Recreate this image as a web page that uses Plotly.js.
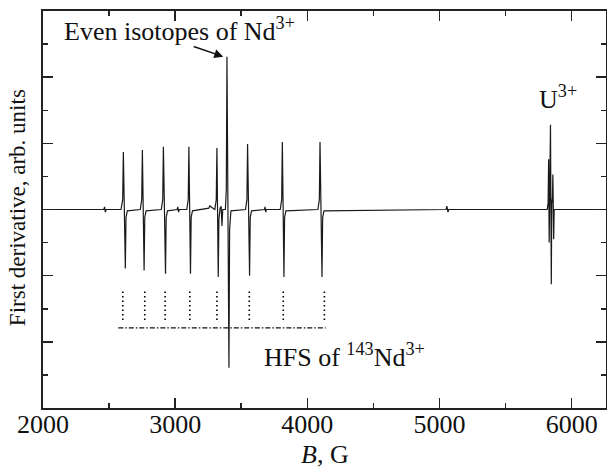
<!DOCTYPE html>
<html>
<head>
<meta charset="utf-8">
<script src="https://cdn.plot.ly/plotly-3.0.1.min.js"></script>
<style>html,body{margin:0;padding:0;background:#fff;}#chart{width:607px;height:468px;}</style>
</head>
<body>
<div id="chart"></div>
<script>
// Magnetic field B (G) and first-derivative EPR signal (arb. units)
const fieldG = [
  2000, 2460, 2466, 2472, 2478,
  2590, 2603, 2608, 2623, 2628, 2638,
  2736, 2747, 2752, 2765, 2770, 2780,
  2895, 2906, 2911, 2927, 2932, 2942,
  3015, 3020, 3026, 3031,
  3088, 3099, 3104, 3116, 3121, 3131,
  3255, 3262, 3270,
  3300, 3311, 3316, 3326, 3331, 3340, 3348, 3354, 3360,
  3380, 3387, 3392, 3407, 3412, 3422,
  3532, 3543, 3548, 3563, 3568, 3578,
  3676, 3680, 3686, 3690,
  3795, 3806, 3811, 3823, 3828, 3838,
  4080, 4091, 4096, 4111, 4116, 4126,
  5050, 5056, 5064, 5070,
  5815, 5822, 5826, 5830, 5834, 5840, 5846, 5850, 5854, 5858, 5864, 5868,
  6260
];
const signal = [
  0, 0, 0.04, -0.04, 0,
  0, 0.15, 0.87, -0.89, -0.12, -0.02,
  0, 0.15, 0.90, -0.92, -0.12, -0.02,
  0, 0.15, 0.95, -0.97, -0.12, -0.02,
  0, 0.04, -0.04, 0,
  0, 0.15, 0.95, -0.97, -0.12, -0.02,
  0.02, 0.06, 0.04,
  0, 0.15, 0.93, -1.02, -0.15, 0.02, 0.05, -0.25, 0,
  0, 0.30, 2.31, -2.39, -0.30, -0.02,
  0, 0.15, 0.99, -1.00, -0.12, -0.02,
  0, 0.04, -0.04, 0,
  0, 0.15, 1.02, -1.02, -0.12, -0.02,
  0, 0.15, 1.02, -1.02, -0.12, -0.02,
  0, 0.05, -0.04, 0,
  0, 0.10, 0.76, -0.50, 0.20, 1.28, -1.13, 0.15, 0.10, 0.53, -0.45, 0,
  0
];
// Positions of the 143Nd hyperfine components (dotted markers)
const hfsPositions = [2604, 2770, 2924, 3111, 3316, 3561, 3818, 4129];
const hfsMarkTop = -1.24;
const hfsMarkBottom = -1.68;
const hfsBracketX = [2570, 4139];
const hfsBracketY = -1.79;
const xTickVals = [2000, 3000, 4000, 5000, 6000];

const dotX = [], dotY = [];
hfsPositions.forEach(p => { dotX.push(p, p, null); dotY.push(hfsMarkTop, hfsMarkBottom, null); });

const font = {family: 'Liberation Serif', size: 26, color: '#111'};
const yTitleFont = {family: 'Liberation Serif', size: 23, color: '#111'};

const traces = [
  {x: fieldG, y: signal, type: 'scatter', mode: 'lines', line: {color: '#1a1a1a', width: 1.2}, hoverinfo: 'skip'},
  {x: dotX, y: dotY, type: 'scatter', mode: 'lines', line: {color: '#000', width: 1.6, dash: '1.5px,3px'}, hoverinfo: 'skip'},
  {x: hfsBracketX, y: [hfsBracketY, hfsBracketY], type: 'scatter', mode: 'lines', line: {color: '#111', width: 1.3, dash: '5px,2px,1.5px,2px'}, hoverinfo: 'skip'}
];

const layout = {
  width: 607, height: 468,
  margin: {l: 43, r: 1, t: 11, b: 60},
  paper_bgcolor: '#fff', plot_bgcolor: '#fff',
  showlegend: false,
  font: font,
  xaxis: {
    range: [2000, 6260], tickvals: xTickVals, ticktext: xTickVals.map(String),
    ticks: 'inside', ticklen: 10, tickwidth: 1.5, tickcolor: '#222',
    showline: true, linewidth: 2, linecolor: '#222', mirror: 'allticks',
    showgrid: false, zeroline: false, ticklabelstandoff: -8,
    minor: {dtick: 500, ticks: 'inside', ticklen: 5, tickwidth: 1.5, tickcolor: '#222', showgrid: false},
    tickfont: font, automargin: false
  },
  yaxis: {
    range: [-3, 3], dtick: 1, tick0: 0,
    ticks: 'inside', ticklen: 10, tickwidth: 1.5, tickcolor: '#222',
    showline: true, linewidth: 2, linecolor: '#222', mirror: 'allticks',
    showgrid: false, zeroline: false, showticklabels: false, automargin: false,
    minor: {dtick: 0.5, ticks: 'inside', ticklen: 5, tickwidth: 1.5, tickcolor: '#222', showgrid: false}
  },
  annotations: [
    {x: 0.5, y: -0.118, xref: 'paper', yref: 'paper', xanchor: 'center', yanchor: 'middle', text: '<i>B</i>, G', showarrow: false, font: font},
    {x: -0.044, y: 0.504, xref: 'paper', yref: 'paper', xanchor: 'center', yanchor: 'middle', textangle: -90, text: 'First derivative, arb. units', showarrow: false, font: yTitleFont},
    {x: 3030, y: 2.72, xref: 'x', yref: 'y', text: 'Even isotopes of Nd<sup>3+</sup>', showarrow: false, font: font},
    {x: 3364, y: 2.31, xref: 'x', yref: 'y', ax: 3129, ay: 2.47, axref: 'x', ayref: 'y', text: '', showarrow: true, arrowhead: 2, arrowsize: 1.2, arrowwidth: 1.5, arrowcolor: '#111'},
    {x: 4280, y: -2.21, xref: 'x', yref: 'y', text: 'HFS of <sup>143</sup>Nd<sup>3+</sup>', showarrow: false, font: font},
    {x: 5894, y: 1.69, xref: 'x', yref: 'y', text: 'U<sup>3+</sup>', showarrow: false, font: font}
  ]
};

Plotly.newPlot('chart', traces, layout, {displayModeBar: false, staticPlot: true});
</script>
</body>
</html>
